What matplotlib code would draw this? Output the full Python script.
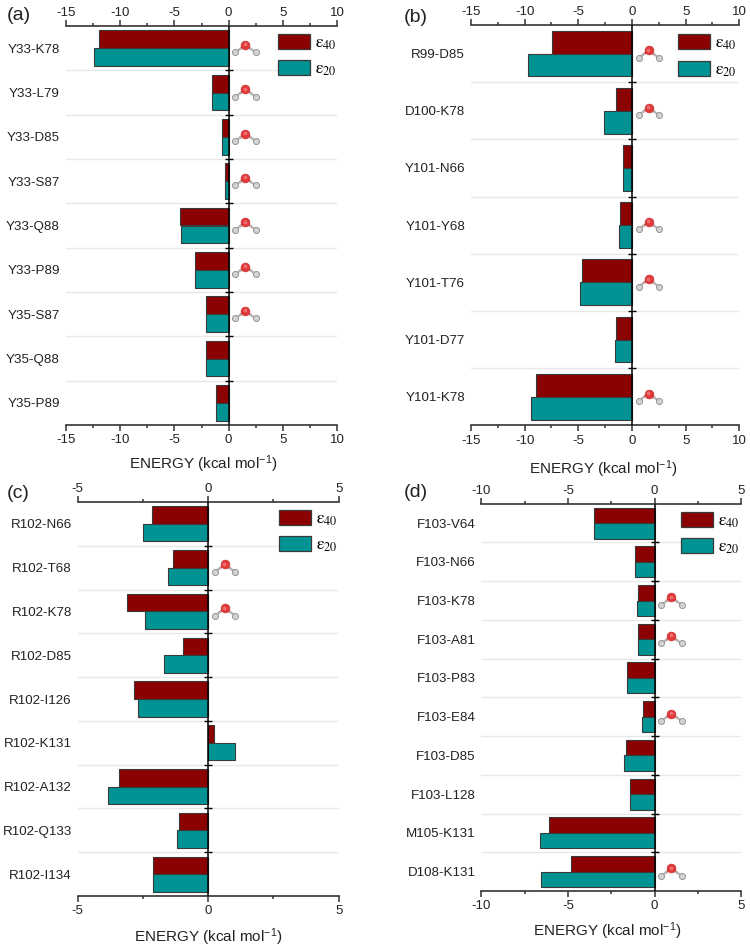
import matplotlib
matplotlib.use("Agg")
import matplotlib.pyplot as plt
from matplotlib.lines import Line2D
from matplotlib.patches import Patch
from matplotlib.transforms import IdentityTransform, ScaledTranslation

plt.rcParams['font.family'] = ['Liberation Sans', 'DejaVu Sans']
plt.rcParams['mathtext.fontset'] = 'stix'

W, H = 750, 948
DPI = 100

# ---------- data ----------
labels_a = ['Y33-K78', 'Y33-L79', 'Y33-D85', 'Y33-S87', 'Y33-Q88', 'Y33-P89', 'Y35-S87', 'Y35-Q88', 'Y35-P89']
e40_a = [-11.93, -1.5, -0.58, -0.37, -4.5, -3.13, -2.05, -2.08, -1.2]
e20_a = [-12.36, -1.52, -0.57, -0.37, -4.42, -3.13, -2.1, -2.1, -1.2]
water_a = ['Y33-K78', 'Y33-L79', 'Y33-D85', 'Y33-S87', 'Y33-Q88', 'Y33-P89', 'Y35-S87']
ticks_a = [-15, -10, -5, 0, 5, 10]

labels_b = ['R99-D85', 'D100-K78', 'Y101-N66', 'Y101-Y68', 'Y101-T76', 'Y101-D77', 'Y101-K78']
e40_b = [-7.42, -1.49, -0.87, -1.15, -4.69, -1.49, -8.91]
e20_b = [-9.72, -2.58, -0.85, -1.2, -4.81, -1.55, -9.44]
water_b = ['R99-D85', 'D100-K78', 'Y101-Y68', 'Y101-T76', 'Y101-K78']
ticks_b = [-15, -10, -5, 0, 5, 10]

labels_c = ['R102-N66', 'R102-T68', 'R102-K78', 'R102-D85', 'R102-I126', 'R102-K131', 'R102-A132', 'R102-Q133', 'R102-I134']
e40_c = [-2.17, -1.36, -3.11, -0.98, -2.86, 0.22, -3.42, -1.12, -2.12]
e20_c = [-2.51, -1.54, -2.42, -1.68, -2.7, 1.02, -3.83, -1.21, -2.13]
water_c = ['R102-T68', 'R102-K78']
ticks_c = [-5, 0, 5]

labels_d = ['F103-V64', 'F103-N66', 'F103-K78', 'F103-A81', 'F103-P83', 'F103-E84', 'F103-D85', 'F103-L128', 'M105-K131', 'D108-K131']
e40_d = [-3.48, -1.15, -0.98, -0.94, -1.58, -0.65, -1.63, -1.4, -6.08, -4.81]
e20_d = [-3.48, -1.15, -1.02, -0.94, -1.62, -0.71, -1.75, -1.4, -6.63, -6.58]
water_d = ['F103-K78', 'F103-A81', 'F103-E84', 'D108-K131']
ticks_d = [-10, -5, 0, 5]

panels = [
    dict(tag='(a)', labels=labels_a, e40=e40_a, e20=e20_a, water=water_a, ticks=ticks_a,
         box=(65.7, 26, 337.3, 425), tag_xy=(7, 16), xl_xy=(203, 464.5), leg_xy=(278, 34)),
    dict(tag='(b)', labels=labels_b, e40=e40_b, e20=e20_b, water=water_b, ticks=ticks_b,
         box=(471, 25, 739.3, 425.3), tag_xy=(404, 17), xl_xy=(603.5, 469.5), leg_xy=(678, 34.5)),
    dict(tag='(c)', labels=labels_c, e40=e40_c, e20=e20_c, water=water_c, ticks=ticks_c,
         box=(77.7, 502, 338.7, 896), tag_xy=(7, 493), xl_xy=(208.7, 937.5), leg_xy=(279, 510)),
    dict(tag='(d)', labels=labels_d, e40=e40_d, e20=e20_d, water=water_d, ticks=ticks_d,
         box=(481.3, 503.7, 741.3, 891), tag_xy=(404, 492.6), xl_xy=(607.8, 931.5), leg_xy=(680.7, 512)),
]

RED = '#8b0000'
TEAL = '#009393'
EDGE = '#3a3a3a'
SEP = '#e8e8e8'
AXC = '#333333'
TXT = '#222222'

fig = plt.figure(figsize=(W / DPI, H / DPI), dpi=DPI, facecolor='white')


def px(x, y):
    return x / W, 1 - y / H


def draw_water(ax, y):
    """Small ball-and-stick water icon beside the zero line of a row."""
    def off(a, b):
        return ax.transData + ScaledTranslation(a / DPI, -b / DPI, fig.dpi_scale_trans)

    fx0, fy0 = ax.transData.transform((0, y))
    ox, oy = 16.8, -3.2
    for sign in (-1, 1):
        hx, hy = ox + sign * 10.2, oy + 7.4
        mx, my = ox + sign * 5, oy + 3.7
        ax.add_line(Line2D([fx0 + ox, fx0 + mx], [fy0 - oy, fy0 - my], color='#e05050', lw=1.6,
                           transform=IdentityTransform(), zorder=5, clip_on=False))
        ax.add_line(Line2D([fx0 + mx, fx0 + hx], [fy0 - my, fy0 - hy], color='#b5b5b5', lw=1.6,
                           transform=IdentityTransform(), zorder=5, clip_on=False))
        ax.plot([0], [y], marker='o', ms=4.4, mfc='#d2d2d2', mec='#8a8a8a', mew=0.6, ls='none',
                transform=off(hx, hy), zorder=6, clip_on=False)
    ax.plot([0], [y], marker='o', ms=6.4, mfc='#e23a3a', mec='#c03030', mew=0.4, ls='none',
            transform=off(ox, oy), zorder=7, clip_on=False)
    ax.plot([0], [y], marker='o', ms=2.6, mfc='#ee7070', mew=0, ls='none',
            transform=off(ox - 0.6, oy - 0.6), zorder=8, clip_on=False)


def style_x(owner, ticks, pad):
    minor = [(a + b) / 2 for a, b in zip(ticks[:-1], ticks[1:])]
    owner.set_xticks(ticks)
    owner.set_xticklabels([str(t) for t in ticks])
    owner.set_xticks(minor, minor=True)
    owner.tick_params(axis='x', which='major', length=4, width=1.1, color=AXC,
                      labelsize=9.5, pad=pad, labelcolor=TXT)
    owner.tick_params(axis='x', which='minor', length=2.4, width=1.1, color=AXC)


for p in panels:
    x0, y0, x1, y1 = p['box']
    left, bottom = px(x0, y1)
    ax = fig.add_axes([left, bottom, (x1 - x0) / W, (y1 - y0) / H])
    n = len(p['labels'])
    pos = list(range(n))
    ax.set_xlim(p['ticks'][0], p['ticks'][-1])
    ax.set_ylim(n - 0.5, -0.5)

    for i in range(n - 1):
        ax.axhline(i + 0.5, color=SEP, lw=1.0, zorder=1)
        ax.plot([0], [i + 0.5], marker='_', ms=6, mew=1.0, color='black', zorder=4)

    ax.barh([i - 0.2 for i in pos], p['e40'], height=0.4, color=RED, edgecolor=EDGE, linewidth=0.8, zorder=2)
    ax.barh([i + 0.2 for i in pos], p['e20'], height=0.4, color=TEAL, edgecolor=EDGE, linewidth=0.8, zorder=2)
    ax.axvline(0, color='black', lw=1.1, zorder=4)

    ax.set_yticks(pos)
    ax.set_yticklabels(p['labels'], fontsize=9.6, color=TXT)
    ax.tick_params(axis='y', length=0, pad=4.2)

    style_x(ax, p['ticks'], 2.8)
    top = ax.secondary_xaxis('top')
    style_x(top, p['ticks'], 1.0)
    top.spines['top'].set_color(AXC)
    top.spines['top'].set_linewidth(1.2)

    for s in ('left', 'right', 'top'):
        ax.spines[s].set_visible(False)
    ax.spines['bottom'].set_color(AXC)
    ax.spines['bottom'].set_linewidth(1.2)
    ax.patch.set_alpha(0)

    for name in p['water']:
        draw_water(ax, p['labels'].index(name))

    handles = [Patch(facecolor=RED, edgecolor=EDGE, linewidth=0.9),
               Patch(facecolor=TEAL, edgecolor=EDGE, linewidth=0.9)]
    lx, ly = px(*p['leg_xy'])
    leg = ax.legend(handles, [r'$\mathrm{\varepsilon}_{40}$', r'$\mathrm{\varepsilon}_{20}$'],
                    loc='upper left', bbox_to_anchor=(lx, ly), bbox_transform=fig.transFigure,
                    frameon=True, facecolor='white', edgecolor='none', framealpha=1, fancybox=False,
                    fontsize=12.5, borderpad=0, borderaxespad=0, handlelength=1.84, handleheight=0.92,
                    handletextpad=0.3, labelspacing=0.5)
    leg.set_zorder(3)

    tx, ty = px(*p['tag_xy'])
    fig.text(tx, ty, p['tag'], fontsize=14, ha='left', va='center', color=TXT)
    xx, xy = px(*p['xl_xy'])
    fig.text(xx, xy, r'ENERGY (kcal mol$^{\mathregular{-1}}$)', fontsize=11, ha='center', va='center', color=TXT)

fig.savefig('out.png', dpi=DPI)
